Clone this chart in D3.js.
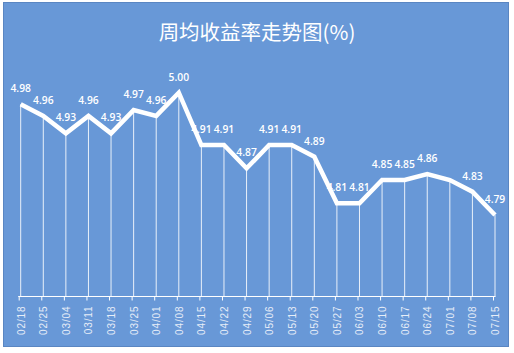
<!DOCTYPE html>
<html>
<head>
<meta charset="utf-8">
<script src="https://cdn.jsdelivr.net/npm/d3@7"></script>
<style>
  body { margin: 0; background: #fff; }
</style>
</head>
<body>
<script>
var w = 514;
var h = 353;

// data
var weeks = ["02/18", "02/25", "03/04", "03/11", "03/18", "03/25", "04/01", "04/08",
    "04/15", "04/22", "04/29", "05/06", "05/13", "05/20", "05/27", "06/03",
    "06/10", "06/17", "06/24", "07/01", "07/08", "07/15"];
var rates = [4.98, 4.96, 4.93, 4.96, 4.93, 4.97, 4.96, 5.00,
    4.91, 4.91, 4.87, 4.91, 4.91, 4.89, 4.81, 4.81,
    4.85, 4.85, 4.86, 4.85, 4.83, 4.79];
var showLabel = [1, 1, 1, 1, 1, 1, 1, 1, 1, 1, 1, 1, 1, 1, 1, 1, 1, 1, 1, 0, 1, 1];
var yDomain = [4.65, 5.05];

var data = weeks.map(function (d, i) {
    return { week: d, rate: rates[i], label: showLabel[i] };
});

var svg = d3.select("body").append("svg").attr("width", w).attr("height", h);

// chart panel
svg.append("rect")
    .attr("x", 3.5).attr("y", 2.5)
    .attr("width", 505).attr("height", 344)
    .attr("fill", "#6898d7")
    .attr("stroke", "#5a86c2")
    .attr("stroke-width", 1);

svg.append("text")
    .attr("x", 257)
    .attr("y", 40)
    .attr("text-anchor", "middle")
    .attr("fill", "#ffffff")
    .style("font-family", "'Noto Sans CJK SC', sans-serif")
    .style("font-size", "20.5px")
    .text("周均收益率走势图(%)");

var xScale = d3.scalePoint().domain(weeks).range([20.7, 495]);
var yScale = d3.scaleLinear().domain(yDomain).range([296.5, 63.5]);
var base = yScale(yDomain[0]);

// drop lines
svg.selectAll("line.drop")
    .data(data)
    .enter().append("line")
    .attr("class", "drop")
    .attr("x1", function (d) { return xScale(d.week); })
    .attr("x2", function (d) { return xScale(d.week); })
    .attr("y1", function (d) { return yScale(d.rate); })
    .attr("y2", base)
    .attr("stroke", "#ffffff")
    .attr("stroke-opacity", 0.85)
    .attr("stroke-width", 1);

// x axis
var xAxis = d3.axisBottom(xScale).tickSize(4).tickPadding(6);
var gx = svg.append("g")
    .attr("transform", "translate(0," + base + ")")
    .call(xAxis);
gx.select(".domain").attr("stroke", "#ffffff").attr("d", "M" + (xScale(weeks[0]) - 2.5) + ",0H" + (xScale(weeks[weeks.length - 1]) + 0.5));
gx.selectAll(".tick line").attr("stroke", "#ffffff").attr("transform", "translate(-2,0)");
gx.selectAll(".tick text")
    .attr("fill", "#e6edf8")
    .style("font-family", "'Liberation Sans', sans-serif")
    .style("font-size", "10px")
    .style("letter-spacing", "0.9px")
    .attr("transform", "rotate(-90)")
    .attr("text-anchor", "end")
    .attr("x", -9)
    .attr("y", 0)
    .attr("dy", "0.35em");

// line
var line = d3.line()
    .x(function (d) { return xScale(d.week); })
    .y(function (d) { return yScale(d.rate); });

svg.append("path")
    .datum(data)
    .attr("d", line)
    .attr("fill", "none")
    .attr("stroke", "#ffffff")
    .attr("stroke-width", 4.5)
    .attr("stroke-linejoin", "miter");

// value labels
svg.selectAll("text.val")
    .data(data.filter(function (d) { return d.label; }))
    .enter().append("text")
    .attr("class", "val")
    .attr("x", function (d) { return xScale(d.week); })
    .attr("y", function (d) { return yScale(d.rate) - 12; })
    .attr("text-anchor", "middle")
    .attr("fill", "#ffffff")
    .style("font-family", "'Open Sans', sans-serif")
    .style("font-size", "10.3px")
    .style("font-weight", "600")
    .text(function (d) { return d.rate.toFixed(2); });
</script>
</body>
</html>
